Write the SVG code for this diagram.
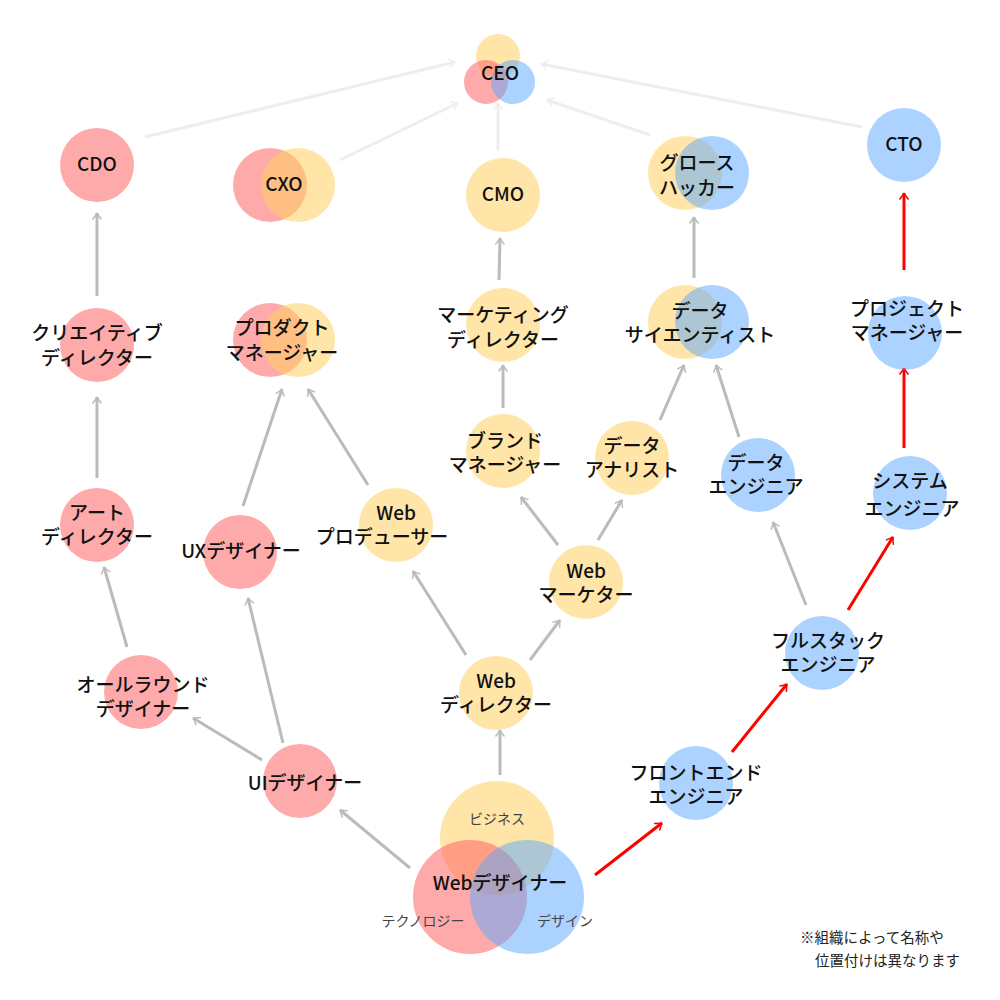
<svg xmlns="http://www.w3.org/2000/svg" width="1000" height="1000" viewBox="0 0 1000 1000">
<style>
.p{fill:#ff6464;fill-opacity:.55}
.y{fill:#ffd060;fill-opacity:.55}
.b{fill:#5aa8ff;fill-opacity:.5}
text{font-family:"Noto Sans CJK JP","Noto Sans",sans-serif;font-size:19px;font-weight:500;fill:#111;text-anchor:middle}
.s{font-size:14px;font-weight:400;fill:#444}
.n{font-size:14.5px;font-weight:400;fill:#222;text-anchor:start}
.g{stroke:#bbb;stroke-width:3;fill:none}
.l{stroke:#eee;stroke-width:3;fill:none}
.r{stroke:#f00;stroke-width:3;fill:none}
</style>
<defs>
<marker id="ag" viewBox="0 0 12 12" refX="10" refY="6" markerWidth="6" markerHeight="6" orient="auto" markerUnits="userSpaceOnUse" style="overflow:visible"><path d="M-6,-6 L10,6 L-6,18" transform="scale(.75) translate(2,2)" fill="none" stroke="#bbb" stroke-width="4"/></marker>
<marker id="al" viewBox="0 0 12 12" refX="10" refY="6" markerWidth="6" markerHeight="6" orient="auto" markerUnits="userSpaceOnUse" style="overflow:visible"><path d="M-6,-6 L10,6 L-6,18" transform="scale(.75) translate(2,2)" fill="none" stroke="#eee" stroke-width="4"/></marker>
<marker id="ar" viewBox="0 0 12 12" refX="10" refY="6" markerWidth="6" markerHeight="6" orient="auto" markerUnits="userSpaceOnUse" style="overflow:visible"><path d="M-6,-6 L10,6 L-6,18" transform="scale(.75) translate(2,2)" fill="none" stroke="#f00" stroke-width="4"/></marker>
</defs>
<rect width="1000" height="1000" fill="#fff"/>
<g id="connectors">
<line class="l" x1="145" y1="137" x2="455" y2="62" marker-end="url(#al)"/>
<line class="l" x1="340" y1="160" x2="458" y2="103" marker-end="url(#al)"/>
<line class="l" x1="498" y1="150" x2="498" y2="103" marker-end="url(#al)"/>
<line class="l" x1="650" y1="135" x2="547" y2="100" marker-end="url(#al)"/>
<line class="l" x1="862" y1="127" x2="541" y2="64" marker-end="url(#al)"/>
<line class="r" x1="904" y1="270" x2="904" y2="193" marker-end="url(#ar)"/>
<line class="r" x1="904" y1="448" x2="904" y2="368" marker-end="url(#ar)"/>
<line class="r" x1="848" y1="610" x2="893" y2="537" marker-end="url(#ar)"/>
<line class="r" x1="732" y1="752" x2="787" y2="684" marker-end="url(#ar)"/>
<line class="r" x1="595" y1="875" x2="662" y2="823" marker-end="url(#ar)"/>
<line class="g" x1="97" y1="296" x2="97" y2="213" marker-end="url(#ag)"/>
<line class="g" x1="97" y1="478" x2="97" y2="397" marker-end="url(#ag)"/>
<line class="g" x1="127" y1="647" x2="104" y2="567" marker-end="url(#ag)"/>
<line class="g" x1="262" y1="760" x2="193" y2="718" marker-end="url(#ag)"/>
<line class="g" x1="283" y1="743" x2="248" y2="598" marker-end="url(#ag)"/>
<line class="g" x1="243" y1="506" x2="282" y2="389" marker-end="url(#ag)"/>
<line class="g" x1="368" y1="485" x2="308" y2="389" marker-end="url(#ag)"/>
<line class="g" x1="410" y1="868" x2="340" y2="810" marker-end="url(#ag)"/>
<line class="g" x1="500" y1="775" x2="500" y2="730" marker-end="url(#ag)"/>
<line class="g" x1="466" y1="655" x2="413" y2="571" marker-end="url(#ag)"/>
<line class="g" x1="530" y1="660" x2="560" y2="620" marker-end="url(#ag)"/>
<line class="g" x1="558" y1="545" x2="521" y2="497" marker-end="url(#ag)"/>
<line class="g" x1="598" y1="540" x2="622" y2="500" marker-end="url(#ag)"/>
<line class="g" x1="503" y1="408" x2="503" y2="365" marker-end="url(#ag)"/>
<line class="g" x1="499" y1="280" x2="500" y2="238" marker-end="url(#ag)"/>
<line class="g" x1="660" y1="420" x2="684" y2="365" marker-end="url(#ag)"/>
<line class="g" x1="739" y1="437" x2="716" y2="365" marker-end="url(#ag)"/>
<line class="g" x1="694" y1="278" x2="694" y2="217" marker-end="url(#ag)"/>
<line class="g" x1="806" y1="605" x2="773" y2="522" marker-end="url(#ag)"/>
</g>
<g id="ceo"><circle class="y" cx="498" cy="56" r="22"/><circle class="p" cx="486" cy="82" r="22"/><circle class="b" cx="513" cy="82" r="22"/><text x="500" y="80">CEO</text></g>
<g id="cdo"><circle class="p" cx="97" cy="165" r="37"/><text x="97" y="171">CDO</text></g>
<g id="cxo"><circle class="p" cx="270" cy="185" r="37"/><circle class="y" cx="298" cy="185" r="37"/><text x="284" y="191">CXO</text></g>
<g id="cmo"><circle class="y" cx="503" cy="195" r="37"/><text x="503" y="201">CMO</text></g>
<g id="growth"><circle class="y" cx="685" cy="173" r="37"/><circle class="b" cx="712" cy="173" r="37"/><text x="697" y="170">グロース</text><text x="697" y="195">ハッカー</text></g>
<g id="cto"><circle class="b" cx="904" cy="145" r="37"/><text x="904" y="151">CTO</text></g>
<g id="creative"><circle class="p" cx="97" cy="345" r="37"/><text x="97" y="340">クリエイティブ</text><text x="97" y="365">ディレクター</text></g>
<g id="pm"><circle class="p" cx="270" cy="340" r="37"/><circle class="y" cx="298" cy="340" r="37"/><text x="282" y="335">プロダクト</text><text x="282" y="360">マネージャー</text></g>
<g id="mktdir"><circle class="y" cx="503" cy="325" r="37"/><text x="503" y="322">マーケティング</text><text x="503" y="347">ディレクター</text></g>
<g id="ds"><circle class="y" cx="685" cy="322" r="37"/><circle class="b" cx="712" cy="322" r="37"/><text x="700" y="318">データ</text><text x="700" y="342">サイエンティスト</text></g>
<g id="projm"><circle class="b" cx="905" cy="333" r="37"/><text x="907" y="316">プロジェクト</text><text x="907" y="340">マネージャー</text></g>
<g id="brand"><circle class="y" cx="503" cy="451" r="37"/><text x="505" y="448">ブランド</text><text x="505" y="472">マネージャー</text></g>
<g id="analyst"><circle class="y" cx="632" cy="458" r="37"/><text x="632" y="453">データ</text><text x="632" y="477">アナリスト</text></g>
<g id="de"><circle class="b" cx="758" cy="475" r="37"/><text x="756" y="470">データ</text><text x="756" y="494">エンジニア</text></g>
<g id="se"><circle class="b" cx="910" cy="493" r="37"/><text x="910" y="488">システム</text><text x="912" y="516">エンジニア</text></g>
<g id="art"><circle class="p" cx="97" cy="525" r="37"/><text x="97" y="520">アート</text><text x="97" y="544">ディレクター</text></g>
<g id="ux"><circle class="p" cx="240" cy="552" r="37"/><text x="241" y="558">UXデザイナー</text></g>
<g id="prod"><circle class="y" cx="396" cy="525" r="37"/><text x="396" y="520">Web</text><text x="382" y="544">プロデューサー</text></g>
<g id="marketer"><circle class="y" cx="586" cy="582" r="37"/><text x="586" y="578">Web</text><text x="586" y="602">マーケター</text></g>
<g id="fullstack"><circle class="b" cx="822" cy="653" r="37"/><text x="828" y="648">フルスタック</text><text x="828" y="672">エンジニア</text></g>
<g id="allround"><circle class="p" cx="141" cy="692" r="37"/><text x="143" y="692">オールラウンド</text><text x="143" y="716">デザイナー</text></g>
<g id="webdir"><circle class="y" cx="496" cy="693" r="37"/><text x="496" y="688">Web</text><text x="496" y="712">ディレクター</text></g>
<g id="ui"><circle class="p" cx="300" cy="781" r="37"/><text x="305" y="790">UIデザイナー</text></g>
<g id="front"><circle class="b" cx="696" cy="783" r="37"/><text x="696" y="780">フロントエンド</text><text x="696" y="804">エンジニア</text></g>
<g id="webdesigner"><circle class="y" cx="497" cy="838" r="57"/><circle class="p" cx="470" cy="897" r="57"/><circle class="b" cx="527" cy="897" r="57"/>
<text x="500" y="890">Webデザイナー</text><text class="s" x="497" y="824">ビジネス</text><text class="s" x="423" y="926">テクノロジー</text><text class="s" x="565" y="926">デザイン</text></g>
<g id="note"><text class="n" x="800" y="943">※組織によって名称や</text><text class="n" x="815" y="966">位置付けは異なります</text></g>
</svg>
